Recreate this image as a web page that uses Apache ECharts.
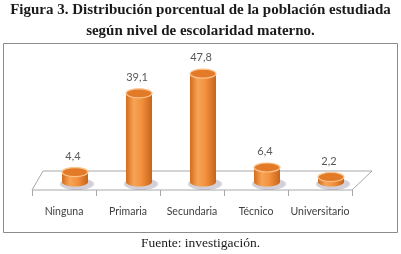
<!DOCTYPE html>
<html>
<head>
<meta charset="utf-8">
<script src="https://cdn.jsdelivr.net/npm/echarts@6/dist/echarts.min.js"></script>
<style>
    html, body { margin: 0; padding: 0; background: #fff; }
    #main { width: 401px; height: 254px; }
</style>
</head>
<body>
<div id="main"></div>
<script>
    // datos
    const categories = ['Ninguna', 'Primaria', 'Secundaria', 'Técnico', 'Universitario'];
    const values = [4.4, 39.1, 47.8, 6.4, 2.2];
    const valueLabels = ['4,4', '39,1', '47,8', '6,4', '2,2'];
    const titleText = 'Figura 3. Distribución porcentual de la población estudiada\nsegún nivel de escolaridad materno.';
    const sourceText = 'Fuente: investigación.';

    const DEPTH = 11; // desplazamiento "3D" del cilindro

    // piso en perspectiva
    function renderFloor(params, api) {
        const cs = params.coordSys;
        const base = cs.y + cs.height;
        const x0 = cs.x, x1 = cs.x + cs.width;
        const children = [{
            type: 'polygon',
            shape: { points: [[x0 + 11, base - 11], [x1 + 20, base - 11], [x1, base + 8], [x0, base + 8]] },
            style: { fill: '#fff', stroke: '#a8a8a8', lineWidth: 1 }
        }];
        const n = categories.length;
        for (let i = 0; i <= n; i++) {
            const tx = Math.round(x0 + cs.width * i / n) + 0.5;
            children.push({
                type: 'line',
                shape: { x1: tx, y1: base + 8, x2: tx, y2: base + 14 },
                style: { stroke: '#a8a8a8', lineWidth: 1 }
            });
        }
        return { type: 'group', children: children };
    }

    function renderCylinder(params, api) {
        const idx = api.value(0);
        const base = api.coord([idx, 0]);
        const top = api.coord([idx, api.value(1)]);
        const cx = base[0] + DEPTH;
        const by = base[1];
        const ty = top[1];
        const rx = 13, ry = 4.5;
        const grad = () => new echarts.graphic.LinearGradient(0, 0, 1, 0, [
            { offset: 0, color: '#D46C1C' },
            { offset: 0.3, color: '#F7A456' },
            { offset: 0.6, color: '#F2913E' },
            { offset: 1, color: '#C9631A' }
        ]);
        return {
            type: 'group',
            children: [
                {
                    type: 'ellipse',
                    shape: { cx: cx + 2, cy: by + 2, rx: rx + 4, ry: ry + 1.5 },
                    style: { fill: 'rgba(130,120,150,0.35)' }
                },
                {
                    type: 'ellipse',
                    shape: { cx: cx, cy: by, rx: rx, ry: ry },
                    style: { fill: grad() }
                },
                {
                    type: 'rect',
                    shape: { x: cx - rx, y: ty, width: rx * 2, height: by - ty },
                    style: { fill: grad() }
                },
                {
                    type: 'ellipse',
                    shape: { cx: cx, cy: ty, rx: rx, ry: ry },
                    style: { fill: '#E27A28', stroke: '#FAC58E', lineWidth: 1.2 }
                },
                {
                    type: 'text',
                    style: {
                        text: valueLabels[idx],
                        x: cx - 2, y: ty - 16,
                        align: 'center', verticalAlign: 'middle',
                        fill: '#595959', fontSize: 11, fontFamily: 'Lato'
                    }
                }
            ]
        };
    }

    const chart = echarts.init(document.getElementById('main'));
    chart.setOption({
        animation: false,
        backgroundColor: '#fff',
        title: [{
            text: titleText,
            left: 'center', top: 0, padding: 0,
            textStyle: { fontFamily: 'Liberation Serif', fontWeight: 'bold', fontSize: 15, lineHeight: 21, color: '#1a1a1a' }
        }, {
            text: sourceText,
            left: 'center', top: 236, padding: 0,
            textStyle: { fontFamily: 'Liberation Serif', fontWeight: 'normal', fontSize: 13.5, lineHeight: 14, color: '#1a1a1a' }
        }],
        graphic: [{
            type: 'rect',
            shape: { x: 3.5, y: 43.5, width: 394, height: 189 },
            style: { fill: 'none', stroke: '#8c8c8c', lineWidth: 1 },
            z: 0
        }],
        grid: { left: 32, right: 49, top: 46, bottom: 72 },
        xAxis: {
            type: 'category',
            data: categories,
            axisLine: { show: false },
            axisTick: { show: false },
            axisLabel: { interval: 0, margin: 24, fontFamily: 'Lato', fontSize: 10.5, color: '#404040' }
        },
        yAxis: { type: 'value', min: 0, max: 60, show: false, splitLine: { show: false } },
        series: [{
            type: 'custom',
            renderItem: renderFloor,
            data: [[0, 0]],
            z: 1,
            silent: true
        }, {
            type: 'custom',
            renderItem: renderCylinder,
            data: values.map((v, i) => [i, v]),
            encode: { x: 0, y: 1 },
            z: 2
        }]
    });
</script>
</body>
</html>
